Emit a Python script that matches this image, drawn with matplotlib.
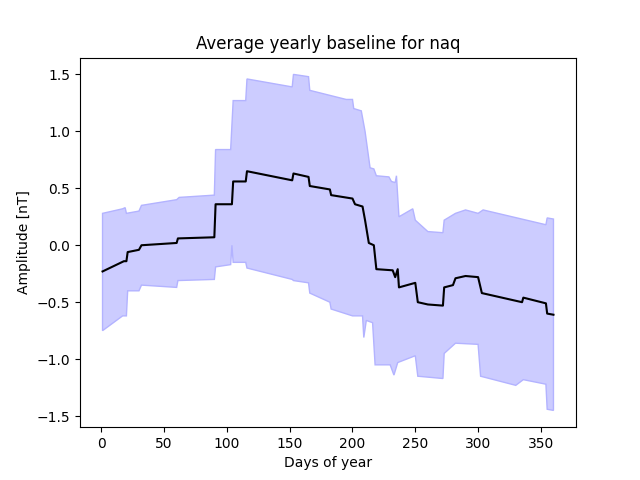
import matplotlib
matplotlib.use("Agg")
import matplotlib.pyplot as plt

mean_days = [1,18,20,21,30,32,60,61,90,91,104,105,115,116,152,153,165,166,182,183,200,202,208,210,213,217,219,232,234,236,237,250,252,260,272,273,280,282,290,300,303,335,336,354,355,360]
mean_vals = [-0.23,-0.14,-0.14,-0.06,-0.04,0.0,0.02,0.06,0.07,0.36,0.36,0.56,0.56,0.65,0.57,0.63,0.60,0.52,0.49,0.44,0.41,0.36,0.34,0.22,0.02,0.0,-0.21,-0.22,-0.28,-0.21,-0.37,-0.33,-0.5,-0.52,-0.53,-0.37,-0.35,-0.29,-0.27,-0.28,-0.42,-0.5,-0.46,-0.51,-0.6,-0.61]

up_days = [1,17,19,20,30,32,60,62,90,91,103,105,115,116,152,153,165,166,195,200,201,207,210,214,217,219,229,231,234,235,237,248,250,260,272,273,282,290,300,304,354,355,360]
up_vals = [0.28,0.32,0.33,0.28,0.30,0.35,0.40,0.42,0.44,0.84,0.84,1.27,1.27,1.46,1.39,1.50,1.48,1.36,1.28,1.28,1.20,1.18,1.00,0.68,0.67,0.61,0.60,0.56,0.55,0.61,0.25,0.32,0.22,0.12,0.11,0.22,0.28,0.31,0.28,0.31,0.18,0.24,0.23]

lo_days = [1,17,20,21,30,32,60,61,90,91,103,104,105,115,116,152,153,165,166,182,183,200,208,209,211,216,218,230,233,236,250,252,272,273,280,282,300,302,330,336,354,355,360]
lo_vals = [-0.75,-0.62,-0.62,-0.40,-0.40,-0.35,-0.37,-0.31,-0.30,-0.19,-0.17,0.0,-0.15,-0.15,-0.20,-0.30,-0.31,-0.33,-0.42,-0.50,-0.56,-0.62,-0.62,-0.81,-0.66,-0.68,-1.05,-1.05,-1.14,-1.03,-0.97,-1.15,-1.17,-0.95,-0.88,-0.86,-0.87,-1.15,-1.23,-1.18,-1.22,-1.44,-1.45]

fig, ax = plt.subplots(figsize=(6.4, 4.8), dpi=100)
ax.fill(up_days + lo_days[::-1], up_vals + lo_vals[::-1], color=(0.8, 0.8, 1.0), edgecolor=(0.7, 0.7, 1.0), linewidth=1)
ax.plot(mean_days, mean_vals, color="black")
ax.set_title("Average yearly baseline for naq")
ax.set_xlabel("Days of year")
ax.set_ylabel("Amplitude [nT]")
fig.savefig("out.png")
